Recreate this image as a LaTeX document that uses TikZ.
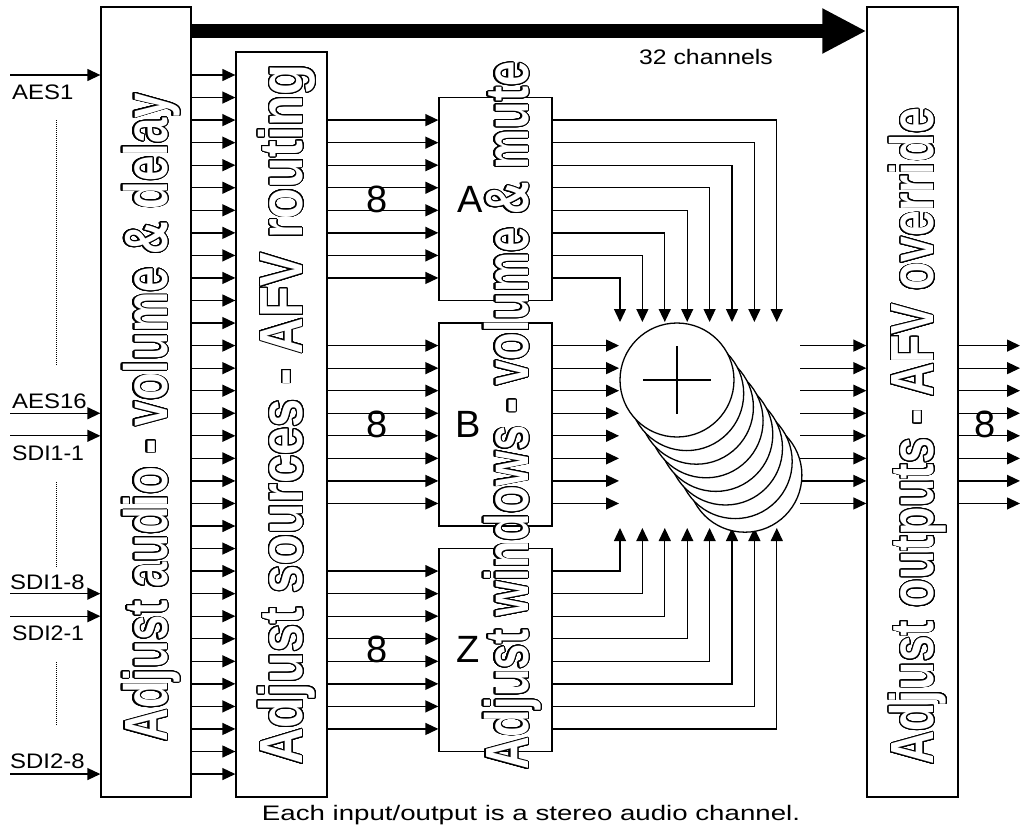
\documentclass[tikz,border=0pt]{standalone}
\usepackage{fontspec}
\setmainfont{Liberation Sans}
\usepackage{graphicx}
\usepackage[copies]{contour}
\usetikzlibrary{arrows.meta}
\contourlength{1.1pt}
\contournumber{32}
\newcommand\vtxt[2]{\scalebox{#1}[1]{\fontsize{61}{61}\selectfont\bfseries\color{white}\contour{black}{#2}}}
\newcommand\hs[2]{\scalebox{#1}[1]{#2}}
\begin{document}
\begin{tikzpicture}[x=1pt,y=-1pt,
  blk/.style={draw,line width=1.3pt,rectangle,inner sep=0pt,fill=white},
  conn/.style={line width=1.3pt,-{Triangle[length=13pt,width=12pt]}},
  plain/.style={line width=1.3pt},
  lbl/.style={font=\fontsize{21}{21}\selectfont,inner sep=0pt},
  big/.style={font=\fontsize{38}{38}\selectfont,inner sep=0pt},
  vt/.style={rotate=90,inner sep=0pt,anchor=base west},
  dots/.style={line width=0.8pt,dash pattern=on 1pt off 1pt}]
\useasboundingbox (0,0) rectangle (1021,833);
\fill[white] (0,0) rectangle (1021,833);
% boxes
\node[blk,minimum width=90pt,minimum height=790pt] (b1) at (146,402) {};
\node[blk,minimum width=91pt,minimum height=745pt] (b2) at (281.5,424.5) {};
\node[blk,minimum width=113pt,minimum height=203pt] (bA) at (495.5,199) {};
\node[blk,minimum width=113pt,minimum height=203pt] (bB) at (495.5,424.5) {};
\node[blk,minimum width=113pt,minimum height=203pt] (bZ) at (495.5,650.3) {};
\node[blk,minimum width=91pt,minimum height=790pt] (b4) at (912.5,402) {};
% thick bus
\coordinate (bus) at (0,31);
\draw[line width=14pt,-{Triangle[length=44pt,width=42pt]}] (b1.east |- bus) -- (b4.west |- bus);
\node[lbl] (ch32) at (706,57) {\hs{1.18}{32 channels}};
% 32 channels box1 -> box2
\foreach \k in {0,...,31}{
  \coordinate (h) at (0,{75+\k*22.55});
  \draw[conn] (b1.east |- h) -- (b2.west |- h);
}
% inputs
\foreach \k/\n in {0/i1,15/i16,16/i17,23/i24,24/i25,31/i32}{
  \coordinate (\n) at (10,{75+\k*22.55});
  \draw[conn] (\n) -- (b1.west |- \n);
}
\node[lbl,anchor=base west] (lA1) at (12,99) {\hs{1.14}{AES1}};
\node[lbl,anchor=base west] (lA16) at (12,408) {\hs{1.14}{AES16}};
\node[lbl,anchor=base west] (lS11) at (12,460) {\hs{1.1}{SDI1-1}};
\node[lbl,anchor=base west] (lS18) at (10,589) {\hs{1.14}{SDI1-8}};
\node[lbl,anchor=base west] (lS21) at (12,640) {\hs{1.1}{SDI2-1}};
\node[lbl,anchor=base west] (lS28) at (10,768) {\hs{1.14}{SDI2-8}};
\coordinate (d1a) at (56,120); \coordinate (d1b) at (56,365);
\coordinate (d2a) at (56,482); \coordinate (d2b) at (56,567);
\coordinate (d3a) at (56,662); \coordinate (d3b) at (56,726);
\draw[dots] (d1a) -- (d1b);
\draw[dots] (d2a) -- (d2b);
\draw[dots] (d3a) -- (d3b);
% box2 -> A, B, Z
\foreach \i in {0,...,7}{
  \coordinate (ha) at (0,{75+(2+\i)*22.55});
  \coordinate (hb) at (0,{75+(12+\i)*22.55});
  \coordinate (hz) at (0,{75+(22+\i)*22.55});
  \draw[conn] (b2.east |- ha) -- (bA.west |- ha);
  \draw[conn] (b2.east |- hb) -- (bB.west |- hb);
  \draw[conn] (b2.east |- hz) -- (bZ.west |- hz);
  % outputs of A (down arrows)
  \coordinate (ta) at ({620+22.4*(7-\i)},322);
  \draw[conn] (bA.east |- ha) -| (ta);
  % outputs of Z (up arrows)
  \coordinate (tz) at ({620+22.4*\i},528);
  \draw[conn] (bZ.east |- hz) -| (tz);
  % outputs of B
  \coordinate (tb) at (619,{75+(12+\i)*22.55});
  \draw[conn] (bB.east |- hb) -- (tb);
  % summer outputs
  \coordinate (so) at (800,{75+(12+\i)*22.55});
  \draw[conn] (so) -- (b4.west |- so);
  \coordinate (oo) at (1020,{75+(12+\i)*22.55});
  \draw[conn] (b4.east |- oo) -- (oo);
}
% summers
\foreach \k in {7,6,...,0}{
  \node[circle,draw,fill=white,line width=1.3pt,minimum size=114pt,inner sep=0pt] (c\k) at ({677+9.7*\k},{380+13.6*\k}) {};
}
\draw[plain] ([xshift=-34pt]c0.center) -- ([xshift=34pt]c0.center);
\draw[plain] ([yshift=34pt]c0.center) -- ([yshift=-34pt]c0.center);
% labels
\node[big] (n8a) at (377,199.5) {8};
\node[big] (n8b) at (377,424.5) {8};
\node[big] (n8z) at (377,649.5) {8};
\node[big] (n8o) at (985,424) {8};
\node[big] (lA) at (470,199.5) {A};
\node[big] (lB) at (468,424.5) {B};
\node[big] (lZ) at (468.5,649.5) {Z};
% vertical titles
\node[vt] (t1) at (167,742) {\vtxt{0.745}{Adjust audio - volume \& delay}};
\node[vt] (t2) at (302.5,765) {\vtxt{0.83}{Adjust sources - AFV routing}};
\node[vt] (tw) at (528,770) {\vtxt{0.741}{Adjust windows - volume \& mute}};
\node[vt] (t4) at (933.5,765) {\vtxt{0.76}{Adjust outputs - AFV override}};
% footnote
\node[lbl] (foot) at (531,815) {\hs{1.317}{Each input/output is a stereo audio channel.}};
\end{tikzpicture}
\end{document}
